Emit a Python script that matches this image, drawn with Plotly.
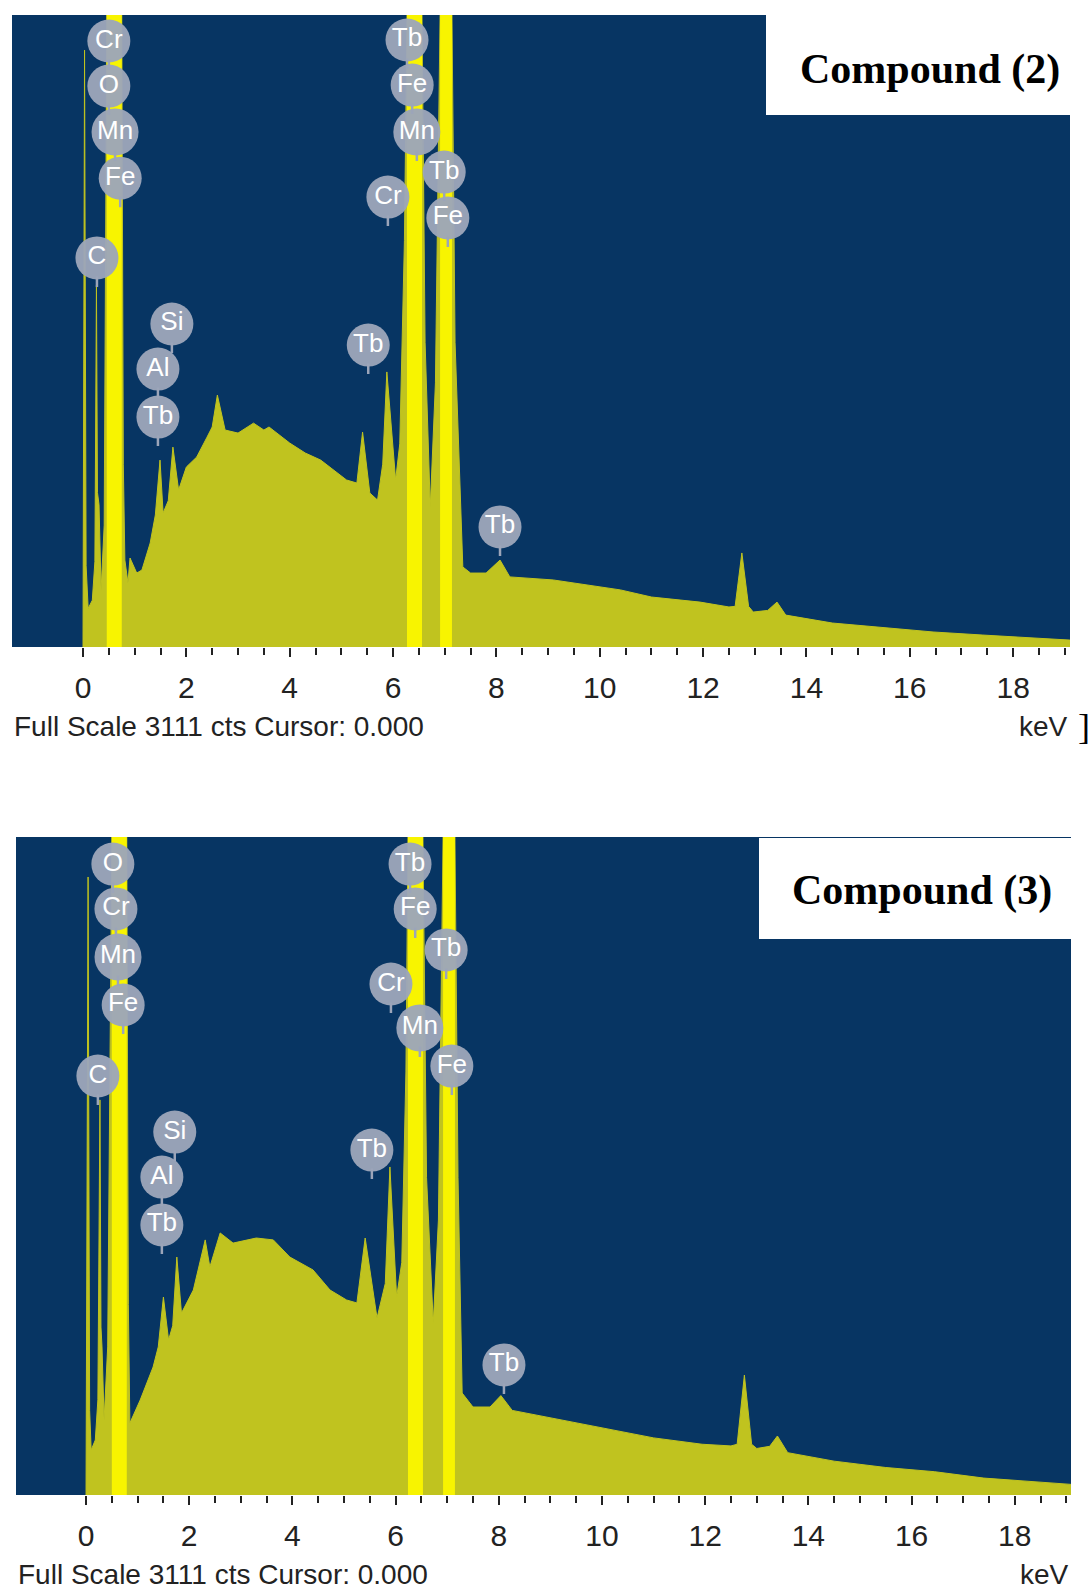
import numpy as np
import plotly.graph_objects as go

W, H = 1089, 1591
FULL_SCALE = 3111

# ---------------- data: EDS spectra (keV, counts) ----------------
c2_kev = [0.00, 0.03, 0.06, 0.10, 0.18, 0.23, 0.26, 0.28, 0.31, 0.35, 0.41, 0.44, 0.46, 0.75,
          0.78, 0.81, 0.87, 0.91, 1.04, 1.14, 1.30, 1.40, 1.49, 1.55, 1.65, 1.74, 1.85, 2.00,
          2.20, 2.40, 2.50, 2.60, 2.75, 3.00, 3.30, 3.50, 3.60, 4.00, 4.30, 4.60, 4.90, 5.10,
          5.30, 5.41, 5.55, 5.70, 5.80, 5.88, 6.05, 6.13, 6.22, 6.27, 6.56, 6.62, 6.72, 6.82,
          6.91, 7.14, 7.20, 7.35, 7.50, 7.80, 8.07, 8.26, 9.10, 10.40, 11.00, 11.94, 12.50,
          12.62, 12.75, 12.88, 12.97, 13.25, 13.43, 13.60, 14.50, 15.50, 16.45, 17.40, 19.10]
c2_cts = [0, 2938, 400, 190, 230, 420, 1782, 760, 700, 280, 600, 2000, 3111, 3111,
          900, 428, 315, 438, 364, 379, 512, 650, 920, 660, 720, 984, 773, 886,
          935, 1033, 1083, 1240, 1068, 1053, 1102, 1068, 1083, 1004, 955, 920, 861, 822,
          807, 1058, 758, 723, 900, 1354, 822, 1000, 2000, 3111, 3111, 1500, 689, 1300,
          3111, 3111, 1500, 394, 364, 364, 428, 345, 330, 281, 246, 221, 197,
          200, 463, 200, 172, 180, 221, 157, 118, 94, 74, 59, 34]

c3_kev = [0.00, 0.04, 0.07, 0.10, 0.18, 0.23, 0.27, 0.29, 0.31, 0.35, 0.42, 0.46, 0.50, 0.79,
          0.82, 0.85, 1.05, 1.30, 1.40, 1.50, 1.60, 1.68, 1.76, 1.85, 2.08, 2.31, 2.40, 2.60,
          2.85, 3.30, 3.63, 3.95, 4.40, 4.73, 5.05, 5.25, 5.41, 5.64, 5.80, 5.89, 6.02, 6.12,
          6.20, 6.24, 6.53, 6.60, 6.73, 6.83, 6.92, 7.15, 7.21, 7.29, 7.50, 7.83, 8.04, 8.26,
          9.10, 10.40, 11.00, 11.94, 12.50, 12.62, 12.76, 12.90, 13.00, 13.25, 13.40, 13.60,
          14.50, 15.50, 16.45, 17.40, 19.10]
c3_cts = [0, 2922, 400, 213, 260, 450, 1868, 794, 700, 355, 700, 2000, 3111, 3111,
          900, 340, 449, 605, 700, 936, 733, 800, 1125, 860, 969, 1206, 1078, 1239,
          1191, 1215, 1206, 1125, 1064, 969, 922, 908, 1215, 837, 1000, 1551, 936, 1100,
          2000, 3111, 3111, 1500, 813, 1300, 3111, 3111, 1500, 482, 416, 416, 470, 400,
          360, 300, 270, 240, 232, 240, 567, 240, 220, 230, 279, 200,
          160, 130, 110, 80, 50]

# off-scale peak windows (keV)
c2_off_lo = [0.46, 6.27, 6.91]
c2_off_hi = [0.75, 6.56, 7.14]
c3_off_lo = [0.50, 6.24, 6.92]
c3_off_hi = [0.79, 6.53, 7.15]

# element labels: text, keV, label height (counts)
c2_lab = ["Cr", "O", "Mn", "Fe", "C", "Si", "Al", "Tb", "Tb", "Tb", "Fe", "Mn", "Tb", "Cr", "Fe", "Tb"]
c2_lab_kev = [0.50, 0.50, 0.62, 0.72, 0.27, 1.72, 1.45, 1.45, 5.52, 6.27, 6.37, 6.46, 6.99, 5.90, 7.06, 8.07]
c2_lab_cts = [2983, 2761, 2535, 2308, 1915, 1590, 1368, 1132, 1486, 2988, 2766, 2535, 2338, 2215, 2112, 591]

c3_lab = ["O", "Cr", "Mn", "Fe", "C", "Si", "Al", "Tb", "Tb", "Tb", "Fe", "Tb", "Cr", "Mn", "Fe", "Tb"]
c3_lab_kev = [0.52, 0.58, 0.62, 0.72, 0.23, 1.72, 1.47, 1.47, 5.54, 6.28, 6.38, 6.98, 5.91, 6.47, 7.09, 8.10]
c3_lab_cts = [2983, 2771, 2544, 2317, 1981, 1716, 1503, 1277, 1631, 2983, 2771, 2577, 2416, 2208, 2028, 615]

major_ticks = [0, 2, 4, 6, 8, 10, 12, 14, 16, 18]
minor_ticks = list(np.arange(0, 19.01, 0.5))

# ---------------- style ----------------
BG = "#073563"
SPEC = "#c0c31f"
BRIGHT = "#f8f400"
BUBBLE = "#9ca5b9"
SANS = "Liberation Sans, Arial, sans-serif"


def px(x):
    return x / W


def py(y):
    return 1 - y / H


panels = [
    dict(kev=c2_kev, cts=c2_cts, lo=c2_off_lo, hi=c2_off_hi, lab=c2_lab, lk=c2_lab_kev, lc=c2_lab_cts,
         xd=[px(12), px(1070)], yd=[py(647), py(15)], xr=[-1.374, 19.10],
         title="Compound (2)", box=(766, 15, 1071, 115), tcen=(930, 69), foot_y=726, bracket=True),
    dict(kev=c3_kev, cts=c3_cts, lo=c3_off_lo, hi=c3_off_hi, lab=c3_lab, lk=c3_lab_kev, lc=c3_lab_cts,
         xd=[px(16), px(1071)], yd=[py(1495), py(837)], xr=[-1.357, 19.09],
         title="Compound (3)", box=(759, 838, 1071, 939), tcen=(922, 890), foot_y=1574, bracket=False),
]

fig = go.Figure()
shapes, annotations = [], []
layout_axes = {}

for i, p in enumerate(panels):
    n = "" if i == 0 else str(i + 1)
    xa, ya = "x" + n, "y" + n
    # spectrum
    fig.add_trace(go.Scatter(x=p["kev"], y=p["cts"], mode="lines", fill="tozeroy",
                             line=dict(color=SPEC, width=1), fillcolor=SPEC,
                             xaxis=xa, yaxis=ya, showlegend=False, hoverinfo="skip"))
    # off-scale peak windows, drawn as filled rectangles from the data
    rx, ry = [], []
    for lo, hi in zip(p["lo"], p["hi"]):
        rx += [lo, lo, hi, hi, lo, None]
        ry += [0, FULL_SCALE, FULL_SCALE, 0, 0, None]
    fig.add_trace(go.Scatter(x=rx, y=ry, mode="lines", fill="toself", fillcolor=BRIGHT,
                             line=dict(width=0, color=BRIGHT),
                             xaxis=xa, yaxis=ya, showlegend=False, hoverinfo="skip"))
    # element bubbles
    fig.add_trace(go.Scatter(x=p["lk"], y=p["lc"], mode="markers+text", text=p["lab"],
                             textposition="middle center",
                             textfont=dict(family=SANS, size=26, color="white"),
                             marker=dict(size=[47 if t == "Mn" else 43 for t in p["lab"]],
                                         color=BUBBLE, opacity=0.96, line=dict(width=0)),
                             xaxis=xa, yaxis=ya, showlegend=False, hoverinfo="skip", cliponaxis=False))
    for k, c in zip(p["lk"], p["lc"]):
        annotations.append(dict(x=k, y=c, xref=xa, yref=ya, text="", showarrow=True, arrowhead=0,
                                arrowwidth=2.5, arrowcolor=BUBBLE, ax=0, ay=-12, yshift=-29))

    layout_axes["xaxis" + n] = dict(domain=p["xd"], range=p["xr"], anchor=ya, showgrid=False, zeroline=False,
                                    tickvals=major_ticks, ticktext=[str(t) for t in major_ticks],
                                    ticks="outside", ticklen=9, tickwidth=2, tickcolor="#222",
                                    ticklabelstandoff=5,
                                    tickfont=dict(family=SANS, size=30, color="#222"),
                                    minor=dict(tickvals=minor_ticks, ticks="outside", ticklen=7,
                                               tickwidth=1.5, tickcolor="#222"),
                                    showline=False, fixedrange=True)
    layout_axes["yaxis" + n] = dict(domain=p["yd"], range=[0, FULL_SCALE], anchor=xa, visible=False,
                                    showgrid=False, zeroline=False, fixedrange=True)

    x0, y0, x1, y1 = p["box"]
    shapes.append(dict(type="rect", xref="paper", yref="paper", x0=px(x0), x1=px(x1), y0=py(y1), y1=py(y0),
                       fillcolor="white", line=dict(width=0), layer="above"))
    annotations.append(dict(x=px(p["tcen"][0]), y=py(p["tcen"][1]), xref="paper", yref="paper",
                            text="<b>" + p["title"] + "</b>", showarrow=False, xanchor="center", yanchor="middle",
                            font=dict(family="Liberation Serif, Times New Roman, serif", size=42, color="black")))
    annotations.append(dict(x=p["xd"][0], y=py(p["foot_y"]), xref="paper", yref="paper",
                            text="Full Scale %d cts Cursor: 0.000" % FULL_SCALE, showarrow=False,
                            xanchor="left", yanchor="middle",
                            font=dict(family=SANS, size=28, color="#222")))
    annotations.append(dict(x=p["xd"][1], y=py(p["foot_y"]), xref="paper", yref="paper",
                            text="keV", showarrow=False, xanchor="right", yanchor="middle",
                            font=dict(family=SANS, size=28, color="#222")))
    if p["bracket"]:
        annotations.append(dict(x=px(1084), y=py(727), xref="paper", yref="paper", text="]",
                                showarrow=False, xanchor="center", yanchor="middle",
                                font=dict(family="Liberation Serif, serif", size=36, color="black")))

fig.update_layout(width=W, height=H, autosize=False, margin=dict(l=0, r=0, t=0, b=0, pad=0),
                  paper_bgcolor="white", plot_bgcolor=BG,
                  shapes=shapes, annotations=annotations, **layout_axes)

fig.write_html("out.html", config={"displayModeBar": False},
               post_script="document.body.style.margin='0';")
